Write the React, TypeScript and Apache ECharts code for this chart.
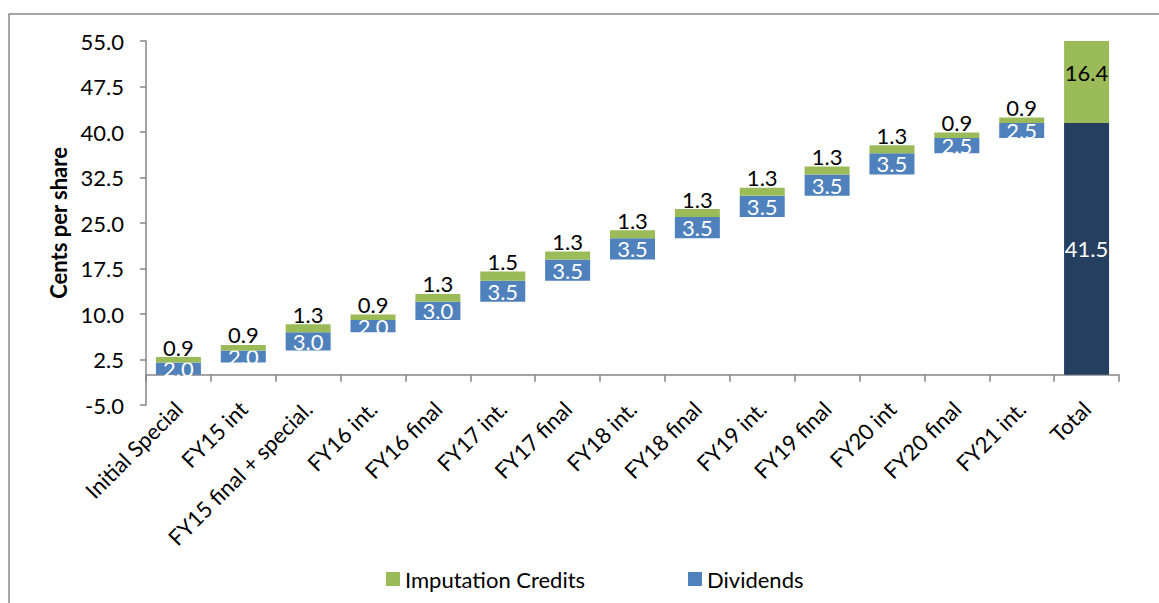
import React, { useEffect, useRef } from "react";
import * as echarts from "echarts";

const categories = [
  "Initial Special",
  "FY15 int",
  "FY15 final + special.",
  "FY16 int.",
  "FY16 final",
  "FY17 int.",
  "FY17 final",
  "FY18 int.",
  "FY18 final",
  "FY19 int.",
  "FY19 final",
  "FY20 int",
  "FY20 final",
  "FY21 int.",
  "Total",
];
const dividends = [2.0, 2.0, 3.0, 2.0, 3.0, 3.5, 3.5, 3.5, 3.5, 3.5, 3.5, 3.5, 2.5, 2.5, 41.5];
const imputationCredits = [0.9, 0.9, 1.3, 0.9, 1.3, 1.5, 1.3, 1.3, 1.3, 1.3, 1.3, 1.3, 0.9, 0.9, 16.4];
const yTicks = [-5, 2.5, 10, 17.5, 25, 32.5, 40, 47.5, 55];

const FONT = "Lato";
const FS = 22;
const BLUE = "#4F81BD";
const GREEN = "#9BBB59";
const DARK = "#253F60";
const AXIS = "#868686";

export default function App() {
  const ref = useRef<HTMLDivElement>(null);
  useEffect(() => {
    if (!ref.current) return;
    const chart = echarts.init(ref.current, undefined, { renderer: "svg" });
    const lastIdx = categories.length - 1;
    // invisible base for waterfall: cumulative dividends before each bar
    const base: number[] = [];
    let acc = 0;
    dividends.forEach((d, i) => {
      if (i === lastIdx) base.push(0);
      else {
        base.push(acc);
        acc += d;
      }
    });

    const legendText = { fontSize: FS, color: "#000", fontFamily: FONT };

    chart.setOption({
      animation: false,
      textStyle: { fontFamily: FONT },
      graphic: [
        {
          type: "rect",
          shape: { x: 9, y: 14, width: 1400, height: 900 },
          style: { fill: "none", stroke: "#898989", lineWidth: 1.5 },
          silent: true,
        },
      ],
      grid: {
        left: 146,
        right: 40,
        top: 41,
        bottom: 198,
        containLabel: false,
        outerBoundsMode: "none",
      },
      legend: [
        {
          data: ["Imputation Credits"],
          left: 381,
          top: 563,
          itemWidth: 14,
          itemHeight: 14,
          itemGap: 5,
          icon: "rect",
          textStyle: legendText,
        },
        {
          data: ["Dividends"],
          left: 683,
          top: 563,
          itemWidth: 14,
          itemHeight: 14,
          icon: "rect",
          textStyle: legendText,
        },
      ],
      xAxis: {
        type: "category",
        data: categories,
        axisLine: { onZero: true, lineStyle: { color: AXIS, width: 1.5 } },
        axisTick: { show: true, length: 7, alignWithLabel: false, interval: 0, lineStyle: { color: AXIS, width: 1.5 } },
        axisLabel: {
          interval: 0,
          rotate: 45,
          margin: 0,
          color: "#000",
          fontSize: FS,
          fontFamily: FONT,
        },
        splitLine: { show: false },
      },
      yAxis: {
        type: "value",
        min: -5,
        max: 55,
        name: "Cents per share",
        nameLocation: "middle",
        nameGap: 77,
        nameTextStyle: { fontSize: FS, fontWeight: "bold", color: "#000", fontFamily: FONT },
        axisLine: { show: true, lineStyle: { color: AXIS, width: 1.5 } },
        axisTick: { show: true, length: 6, customValues: yTicks, lineStyle: { color: AXIS, width: 1.5 } },
        axisLabel: {
          customValues: yTicks,
          formatter: (v: number) => v.toFixed(1),
          margin: 22,
          color: "#000",
          fontSize: FS,
          fontFamily: FONT,
        },
        splitLine: { show: false },
      },
      series: [
        {
          name: "base",
          type: "bar",
          stack: "w",
          barWidth: 45,
          silent: true,
          itemStyle: { color: "transparent" },
          data: base,
          z: 1,
        },
        {
          name: "Dividends",
          type: "bar",
          stack: "w",
          barWidth: 45,
          z: 2,
          itemStyle: { color: BLUE },
          label: {
            show: true,
            position: "inside",
            color: "#fff",
            fontSize: FS,
            fontFamily: FONT,
            formatter: (p: any) => Number(p.value).toFixed(1),
          },
          data: dividends.map((v, i) =>
            i === lastIdx ? { value: v, itemStyle: { color: DARK } } : v
          ),
        },
        {
          name: "Imputation Credits",
          type: "bar",
          stack: "w",
          barWidth: 45,
          z: 3,
          itemStyle: { color: GREEN },
          label: {
            show: true,
            position: "top",
            distance: -1,
            color: "#000",
            fontSize: FS,
            fontFamily: FONT,
            formatter: (p: any) => Number(p.value).toFixed(1),
          },
          data: imputationCredits.map((v, i) =>
            i === lastIdx
              ? { value: v, label: { position: "inside", offset: [0, -9] } }
              : v
          ),
        },
      ],
    });
    return () => chart.dispose();
  }, []);
  return (
    <div
      ref={ref}
      style={{ position: "absolute", left: 0, top: 0, width: 1159, height: 603 }}
    />
  );
}
